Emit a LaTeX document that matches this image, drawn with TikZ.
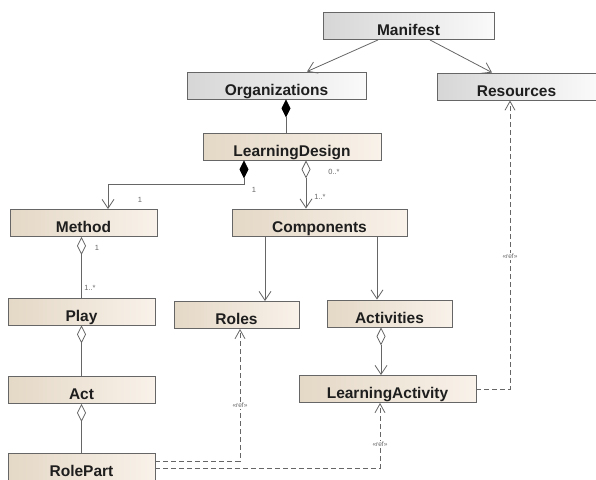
\documentclass[tikz,border=0pt]{standalone}
\usepackage{fontspec}
\setmainfont{Liberation Sans}
\usetikzlibrary{arrows.meta, calc}
\definecolor{umlEdge}{HTML}{666666}
\definecolor{umlText}{HTML}{1E1E1E}
\definecolor{grayL}{HTML}{D6D6D6}
\definecolor{grayR}{HTML}{FAFAFA}
\definecolor{beigeL}{HTML}{E4D8C6}
\definecolor{beigeR}{HTML}{F9F2EA}
\tikzstyle{cls}=[draw=umlEdge, line width=0.9pt, inner sep=0pt, minimum height=27pt, text height=23pt, text depth=4pt, text=umlText, font=\fontsize{15.5}{18}\selectfont\bfseries]
\tikzstyle{top}=[cls, left color=grayL, right color=grayR]
\tikzstyle{sub}=[cls, left color=beigeL, right color=beigeR]
\tikzstyle{link}=[draw=umlEdge, line width=0.8pt]
\tikzstyle{nav}=[link, -{Straight Barb[length=9pt, width=12pt]}]
\tikzstyle{agg}=[link, {Diamond[open, length=18pt, width=9pt]}-]
\tikzstyle{aggnav}=[link, {Diamond[open, length=18pt, width=9pt]}-{Straight Barb[length=9pt, width=12pt]}]
\tikzstyle{comp}=[link, {Diamond[length=18pt, width=9pt, black]}-]
\tikzstyle{compnav}=[link, {Diamond[length=18pt, width=9pt, black]}-{Straight Barb[length=9pt, width=12pt]}]
\tikzstyle{ref}=[link, dashed, dash pattern=on 5pt off 3pt, -{Straight Barb[length=9pt, width=10pt]}]
\tikzstyle{mult}=[text=umlEdge, font=\fontsize{7.5}{9}\selectfont, inner sep=1pt]
\tikzstyle{stereo}=[text=umlEdge, fill=white, font=\fontsize{6.5}{7}\selectfont, inner sep=1pt]

\begin{document}
\begin{tikzpicture}[x=1pt, y=-1pt]
	\useasboundingbox (0,0) rectangle (596,479);

	% Package level
	\node[top, minimum width=171pt] (manifest) at (408.5, 26) {Manifest};
	\node[top, minimum width=179pt] (orgs) at (276.5, 85.5) {Organizations};
	\node[top, minimum width=159pt] (resources) at (516.5, 86.5) {Resources};

	% Learning design elements
	\node[sub, minimum width=178pt] (design) at (292, 146.5) {LearningDesign};
	\node[sub, minimum width=147pt] (method) at (83.5, 223) {Method};
	\node[sub, minimum width=175pt] (components) at (319.5, 222.5) {Components};
	\node[sub, minimum width=147pt] (play) at (81.5, 311.5) {Play};
	\node[sub, minimum width=125pt] (roles) at (236.5, 315) {Roles};
	\node[sub, minimum width=125pt] (activities) at (389.5, 313.5) {Activities};
	\node[sub, minimum width=147pt] (act) at (81.5, 390) {Act};
	\node[sub, minimum width=177pt] (lactivity) at (387.5, 389) {LearningActivity};
	\node[sub, minimum width=147pt] (rolepart) at (81.5, 466.5) {RolePart};

	% Associations
	\draw[nav] ([xshift=-30.5pt]manifest.south) -- ([xshift=30.5pt]orgs.north);
	\draw[nav] ([xshift=21.5pt]manifest.south) -- ([xshift=-24.5pt]resources.north);
	\draw[comp] ([xshift=9.5pt]orgs.south) -- ([xshift=-6pt]design.north);
	\draw[compnav] ([xshift=-48pt]design.south) -- ++(0,24) -| ([xshift=24.5pt]method.north);
	\draw[aggnav] ([xshift=14pt]design.south) -- ([xshift=14pt]design.south |- components.north);
	\draw[agg] (play.north |- method.south) -- (play.north);
	\draw[agg] (play.south) -- (act.north);
	\draw[agg] (act.south) -- (rolepart.north);
	\draw[nav] ([xshift=-54.5pt]components.south) -- ([xshift=-54.5pt]components.south |- roles.north);
	\draw[nav] ([xshift=57.5pt]components.south) -- ([xshift=57.5pt]components.south |- activities.north);
	\draw[aggnav] ([xshift=-8.5pt]activities.south) -- ([xshift=-8.5pt]activities.south |- lactivity.north);

	% References
	\draw[ref] ([yshift=5.5pt]rolepart.east) -| node[stereo, pos=0.71] (refRoles) {«ref»} ([xshift=3.5pt]roles.south);
	\draw[ref] ([yshift=-1.5pt]rolepart.east) -| node[stereo, pos=0.68] (refActivity) {«ref»} ([xshift=-7.5pt]lactivity.south);
	\draw[ref] (lactivity.east) -| node[stereo, pos=0.73] (refResources) {«ref»} ([xshift=-6.5pt]resources.south);

	% Multiplicities
	\node[mult] (mMethodA) at (140, 200) {1};
	\node[mult] (mMethodB) at (254, 190) {1};
	\node[mult] (mCompA) at (334, 172) {0..*};
	\node[mult] (mCompB) at (320, 197) {1..*};
	\node[mult] (mPlayA) at (97, 248) {1};
	\node[mult] (mPlayB) at (90, 288) {1..*};
\end{tikzpicture}
\end{document}
